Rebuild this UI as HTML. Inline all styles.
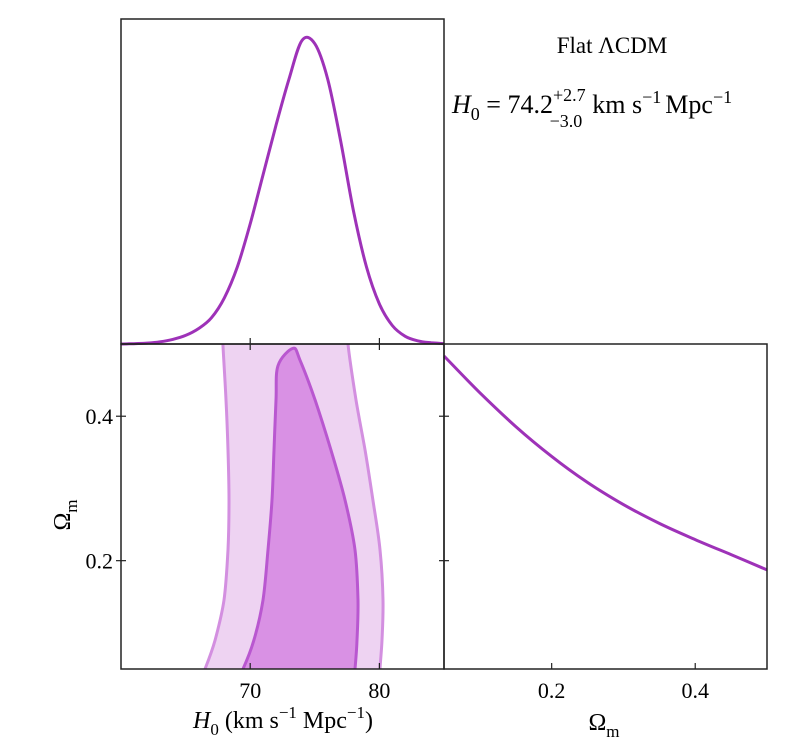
<!DOCTYPE html>
<html><head><meta charset="utf-8"><style>
body{margin:0;background:#fff;}
svg{display:block;font-family:"Liberation Serif",serif;}
</style></head><body>
<svg id="chart" width="800" height="754" viewBox="0 0 800 754" xmlns="http://www.w3.org/2000/svg">
<g id="content"></g>
<text x="612" y="53" font-size="23" text-anchor="middle">Flat ΛCDM</text>
<text x="452" y="113" font-size="26"><tspan font-style="italic">H</tspan><tspan font-size="18" dy="7">0</tspan><tspan dy="-7"> = 74.2</tspan><tspan font-size="18" dy="-12">+2.7</tspan><tspan font-size="18" dx="-36" dy="26">−3.0</tspan><tspan dx="10" dy="-14">km s</tspan><tspan font-size="18" dy="-10">−1</tspan><tspan dx="4" dy="10">Mpc</tspan><tspan font-size="18" dy="-10">−1</tspan></text>
<text x="283" y="728" font-size="24" text-anchor="middle"><tspan font-style="italic">H</tspan><tspan font-size="17" dy="7">0</tspan><tspan dy="-7"> (km s</tspan><tspan font-size="17" dy="-10">−1</tspan><tspan dy="10"> Mpc</tspan><tspan font-size="17" dy="-10">−1</tspan><tspan dy="10">)</tspan></text>
<text x="604" y="730" font-size="24" text-anchor="middle">Ω<tspan font-size="17" dy="7">m</tspan></text>
<text transform="translate(70,515) rotate(-90)" font-size="24" text-anchor="middle">Ω<tspan font-size="17" dy="7">m</tspan></text>
</svg>
<script>
// 1D H0 posterior
const h0Grid = [60,61,62,63,64,65,66,67,68,69,70,71,72,73,74,75,76,77,78,79,80,81,82,83,84,85];
const h0Density = [0,0.001,0.003,0.007,0.015,0.028,0.05,0.085,0.15,0.25,0.39,0.55,0.71,0.86,0.985,0.975,0.86,0.66,0.43,0.25,0.13,0.06,0.025,0.01,0.004,0.001];
// 1D Omega_m posterior
const omGrid = [0.05,0.1,0.15,0.2,0.25,0.3,0.35,0.4,0.45,0.5];
const omDensity = [0.963,0.85,0.746,0.654,0.574,0.506,0.448,0.398,0.352,0.305];
// 2D contours: Omega levels, H0 left/right boundaries
const outerOm = [0.5,0.4224,0.353,0.284,0.215,0.1454,0.09,0.05];
const outerLeft = [67.89,68.13,68.28,68.36,68.28,67.97,67.28,66.5];
const outerRight = [77.57,78.19,78.89,79.5,80.05,80.28,80.2,80.05];
const innerTop = [73.31,0.494];
const innerOm = [0.47,0.4224,0.353,0.284,0.215,0.1454,0.09,0.05];
const innerLeft = [72.15,72.0,71.84,71.69,71.38,70.99,70.29,69.44];
const innerRightOm = [0.478,0.4224,0.353,0.284,0.215,0.1454,0.09,0.05];
const innerRight = [73.85,75.02,76.25,77.34,78.11,78.34,78.27,78.11];
const h0Ticks = [70,80];
const omTicks = [0.2,0.4];

const NS='http://www.w3.org/2000/svg';
const g=document.getElementById('content');
const L=121,M=444,R=767,T=19,MID=344,B=669;
const xH=v=>L+(v-60)/25*(M-L);
const yO=v=>B-(v-0.05)/0.45*(B-MID);
const xO=v=>M+(v-0.05)/0.45*(R-M);
const yD1=d=>MID-d*308;
const yD2=d=>B-d*(B-MID);
function spline(p,closed){
  let n=p.length,s='M'+p[0][0].toFixed(1)+','+p[0][1].toFixed(1);
  const get=i=>closed?p[(i+n)%n]:p[Math.max(0,Math.min(n-1,i))];
  const m=closed?n:n-1;
  for(let i=0;i<m;i++){
    const p0=get(i-1),p1=get(i),p2=get(i+1),p3=get(i+2);
    const c1=[p1[0]+(p2[0]-p0[0])/6,p1[1]+(p2[1]-p0[1])/6];
    const c2=[p2[0]-(p3[0]-p1[0])/6,p2[1]-(p3[1]-p1[1])/6];
    s+='C'+c1[0].toFixed(1)+','+c1[1].toFixed(1)+' '+c2[0].toFixed(1)+','+c2[1].toFixed(1)+' '+p2[0].toFixed(1)+','+p2[1].toFixed(1);
  }
  return s+(closed?'Z':'');
}
function el(tag,attrs){const e=document.createElementNS(NS,tag);for(const k in attrs)e.setAttribute(k,attrs[k]);g.appendChild(e);return e;}
const clip=document.createElementNS(NS,'clipPath');clip.setAttribute('id','cp');
const cr=document.createElementNS(NS,'rect');cr.setAttribute('x',L);cr.setAttribute('y',MID);cr.setAttribute('width',M-L);cr.setAttribute('height',B-MID);
clip.appendChild(cr);g.appendChild(clip);

// outer contour
let op=[];outerOm.forEach((o,i)=>op.push([xH(outerLeft[i]),yO(o)]));
let opR=[];outerOm.forEach((o,i)=>opR.push([xH(outerRight[i]),yO(o)]));
let outerPts=[[op[0][0],yO(0.53)]].concat(op).concat([[op[op.length-1][0]-10,yO(0.02)],[opR[opR.length-1][0],yO(0.02)]]).concat(opR.reverse()).concat([[opR[opR.length-1][0],yO(0.53)]]);
const outer=el('path',{d:spline(outerPts,false)+'Z',fill:'#eed3f2',stroke:'#d38fe0','stroke-width':3,'clip-path':'url(#cp)'});


let il=[];innerOm.forEach((o,i)=>il.push([xH(innerLeft[i]),yO(o)]));
let ir=[];innerRightOm.forEach((o,i)=>ir.push([xH(innerRight[i]),yO(o)]));
let innerPts=[[xH(innerTop[0]),yO(innerTop[1])]].concat(ir).concat([[ir[ir.length-1][0]-2,yO(0.02)],[il[il.length-1][0]-12,yO(0.02)]]).concat(il.reverse());
const inner=el('path',{d:spline(innerPts,true),fill:'#d991e4',stroke:'#b957d0','stroke-width':3,'clip-path':'url(#cp)'});



// 1D curves
const c1=el('path',{d:spline(h0Grid.map((v,i)=>[xH(v),yD1(h0Density[i])]),false),fill:'none',stroke:'#9e32b8','stroke-width':3});


const c2=el('path',{d:spline(omGrid.map((v,i)=>[xO(v),yD2(omDensity[i])]),false),fill:'none',stroke:'#9e32b8','stroke-width':3});



// frames
[[L,T,M-L,MID-T,'h0-panel'],[L,MID,M-L,B-MID,'contour-panel'],[M,MID,R-M,B-MID,'omega-panel']].forEach(f=>{
  const r=el('rect',{x:f[0],y:f[1],width:f[2],height:f[3],fill:'none',stroke:'#222','stroke-width':1.5});
  
  
});
// ticks
h0Ticks.forEach(t=>{
  [MID,B].forEach(yy=>el('line',{x1:xH(t),x2:xH(t),y1:yy-6,y2:yy+(yy==B?0:6),stroke:'#222','stroke-width':1.2}));
  const tx=el('text',{x:xH(t),y:B+29,'font-size':22,'text-anchor':'middle'});tx.textContent=t;
  
  
});
omTicks.forEach(t=>{
  el('line',{x1:L-5,x2:L+5,y1:yO(t),y2:yO(t),stroke:'#222','stroke-width':1.2});
  el('line',{x1:M-5,x2:M+5,y1:yO(t),y2:yO(t),stroke:'#222','stroke-width':1.2});
  el('line',{x1:xO(t),x2:xO(t),y1:B-6,y2:B,stroke:'#222','stroke-width':1.2});
  const ty=el('text',{x:L-8,y:yO(t)+8,'font-size':22,'text-anchor':'end'});ty.textContent=t.toFixed(1);
  
  
  const tx=el('text',{x:xO(t),y:B+29,'font-size':22,'text-anchor':'middle'});tx.textContent=t.toFixed(1);
  
  
});
</script>
</body></html>
